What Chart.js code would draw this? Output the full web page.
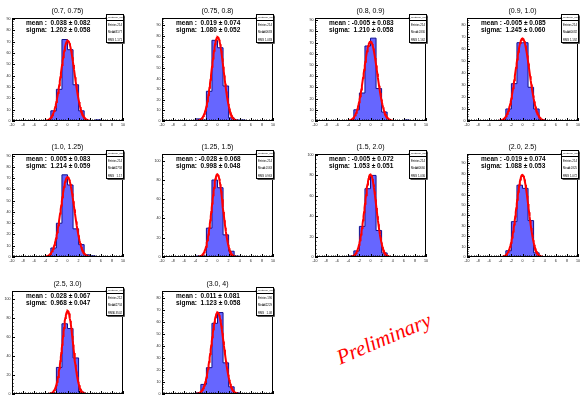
<!DOCTYPE html>
<html>
<head>
<meta charset="utf-8">
<script src="https://cdn.jsdelivr.net/npm/chart.js@4.4.0/dist/chart.umd.min.js"></script>
<style>
    html, body { margin: 0; padding: 0; background: #fff; width: 585px; height: 396px; overflow: hidden; }
    #wrap { position: relative; width: 585px; height: 396px; overflow: hidden; }
    .pad { position: absolute; }
    #prelim {
        position: absolute; left: 384px; top: 339px;
        transform: translate(-50%, -50%) rotate(-23deg);
        font: italic 21px "Liberation Serif", "DejaVu Serif", serif;
        color: #ff0000; white-space: nowrap; line-height: 1;
    }
</style>
</head>
<body>
<div id="wrap"><div id="prelim">Preliminary</div></div>
<script>
// pt bins of the pull distributions
const panelTitles = ['(0.7, 0.75)', '(0.75, 0.8)', '(0.8, 0.9)', '(0.9, 1.0)', '(1.0, 1.25)',
                     '(1.25, 1.5)', '(1.5, 2.0)', '(2.0, 2.5)', '(2.5, 3.0)', '(3.0, 4)'];

// histogram bin edges (unit bins from -10 to 10)
const binEdges = [-10, -9, -8, -7, -6, -5, -4, -3, -2, -1, 0, 1, 2, 3, 4, 5, 6, 7, 8, 9, 10];

// entries per bin, one row per panel
const binCounts = [
    [0, 0, 0, 0, 0, 0, 0, 9, 28, 72, 63, 32, 9, 0, 0, 1, 0, 0, 0, 0],
    [0, 0, 0, 0, 0, 0, 2, 1, 28, 76, 69, 33, 3, 1, 1, 0, 0, 0, 0, 0],
    [0, 0, 0, 0, 0, 0, 0, 10, 25, 67, 74, 29, 8, 0, 0, 0, 1, 0, 0, 0],
    [0, 0, 0, 0, 0, 0, 1, 10, 31, 65, 65, 28, 10, 1, 0, 0, 0, 0, 0, 0],
    [0, 0, 0, 0, 0, 0, 0, 8, 30, 73, 64, 25, 11, 2, 1, 0, 0, 0, 0, 0],
    [0, 0, 0, 0, 0, 0, 1, 1, 30, 80, 72, 23, 6, 1, 0, 0, 0, 0, 0, 0],
    [0, 0, 0, 0, 0, 0, 1, 6, 30, 67, 80, 26, 4, 0, 0, 0, 0, 0, 0, 0],
    [0, 0, 0, 0, 0, 0, 0, 6, 34, 69, 66, 35, 4, 0, 0, 0, 0, 0, 0, 0],
    [0, 0, 0, 0, 0, 0, 0, 1, 28, 74, 69, 38, 2, 0, 0, 0, 0, 0, 0, 0],
    [0, 0, 0, 0, 0, 0, 1, 8, 22, 59, 68, 26, 6, 1, 0, 0, 0, 0, 0, 0]
];

// gaussian fit results
const fitMean     = [0.038, 0.019, -0.005, -0.005, 0.005, -0.028, -0.005, -0.019, 0.028, 0.011];
const fitMeanErr  = [0.082, 0.074, 0.083, 0.085, 0.083, 0.068, 0.072, 0.074, 0.067, 0.081];
const fitSigma    = [1.202, 1.080, 1.210, 1.245, 1.214, 0.998, 1.053, 1.088, 0.968, 1.123];
const fitSigmaErr = [0.058, 0.052, 0.058, 0.060, 0.059, 0.048, 0.051, 0.053, 0.047, 0.058];
const fitPeak     = [71, 79, 71, 68.5, 71, 86, 81, 79, 87.5, 68];

// y axis ranges
const yMax  = [91, 97, 92, 85.5, 91.5, 107, 101, 99, 108.5, 86];
const yStep = [10, 10, 10, 10, 10, 20, 20, 10, 20, 10];

// stats box contents
const statEntries = ['214', '214', '214', '214', '214', '214', '214', '214', '212', '196'];
const statMean    = ['0.03177', '0.00683', '0.0330', '-0.00082', '0.02758', '-0.0163', '0.00660', '-0.0325', '0.02734', '0.02229'];
const statRms     = ['1.171', '1.083', '1.162', '1.192', '1.17', '0.963', '1.036', '1.072', '0.9502', '1.08'];
const histName = 'h_deuteron_pull0';

// pad placement (frame top-left corner on the page)
const frameLeft = [12, 162, 315, 467, 12, 162, 315, 467, 12, 162];
const frameTop  = [18, 18, 18, 18, 154, 154, 154, 154, 291, 291];

const PAD_W = 150, PAD_H = 135;
const FONT = '"Liberation Sans", Arial, sans-serif';

Chart.defaults.font.family = FONT;

// ROOT-like frame, inner ticks, title, fit label and stats box
const rootPad = {
    id: 'rootPad',
    afterDatasetsDraw(chart, args, opts) {
        const { ctx, chartArea: a, scales: { x, y } } = chart;
        const i = opts.index;
        ctx.save();
        ctx.strokeStyle = '#000';
        ctx.lineWidth = 1;

        // tick marks pointing into the frame
        ctx.beginPath();
        for (let k = 0; k <= 50; k++) {
            const px = Math.round(x.getPixelForValue(-10 + k * 0.4)) + 0.5;
            const len = k % 5 === 0 ? 3 : 1.5;
            ctx.moveTo(px, a.bottom);
            ctx.lineTo(px, a.bottom - len);
        }
        const minor = yStep[i] / 5;
        for (let k = 0; k * minor <= yMax[i]; k++) {
            const py = Math.round(y.getPixelForValue(k * minor)) + 0.5;
            const len = k % 5 === 0 ? 3 : 1.5;
            ctx.moveTo(a.left, py);
            ctx.lineTo(a.left + len, py);
        }
        ctx.stroke();

        // frame
        ctx.strokeRect(Math.round(a.left) + 0.5, Math.round(a.top) + 0.5,
                       Math.round(a.width) - 1, Math.round(a.height) - 1);

        // pad title
        ctx.fillStyle = '#000';
        ctx.font = '7px ' + FONT;
        ctx.textAlign = 'center';
        ctx.textBaseline = 'alphabetic';
        ctx.fillText(panelTitles[i], (a.left + a.right) / 2, a.top - 5.5);

        // fit result
        ctx.font = 'bold 6.5px ' + FONT;
        ctx.textAlign = 'left';
        const m = fitMean[i];
        ctx.fillText('mean : ' + (m < 0 ? '' : ' ') + m.toFixed(3) + ' \u00b1 ' + fitMeanErr[i].toFixed(3),
                     a.left + 14, a.top + 7);
        ctx.fillText('sigma:  ' + fitSigma[i].toFixed(3) + ' \u00b1 ' + fitSigmaErr[i].toFixed(3),
                     a.left + 14, a.top + 14);
        ctx.restore();
    },
    afterDraw(chart, args, opts) {
        const { ctx, chartArea: a } = chart;
        const i = opts.index;
        const bx = Math.round(a.right) - 16.5, by = Math.round(a.top) - 3.5;
        const bw = 17, bh = 28;
        ctx.save();
        ctx.fillStyle = '#fff';
        ctx.fillRect(bx, by, bw, bh);
        ctx.strokeStyle = '#000';
        ctx.lineWidth = 1;
        ctx.strokeRect(bx, by, bw, bh);
        ctx.beginPath();
        ctx.moveTo(bx, by + 6);
        ctx.lineTo(bx + bw, by + 6);
        ctx.stroke();
        // thin shadow on the right and bottom
        ctx.strokeStyle = '#555';
        ctx.beginPath();
        ctx.moveTo(bx + bw + 1, by + 1);
        ctx.lineTo(bx + bw + 1, by + bh + 1);
        ctx.lineTo(bx + 1, by + bh + 1);
        ctx.stroke();

        ctx.fillStyle = '#000';
        ctx.font = '2.5px ' + FONT;
        ctx.textAlign = 'center';
        ctx.textBaseline = 'middle';
        ctx.fillText(histName, bx + bw / 2, by + 3);
        ctx.font = '2.8px ' + FONT;
        const rows = [['Entries', statEntries[i]], ['Mean', statMean[i]], ['RMS', statRms[i]]];
        rows.forEach((r, k) => {
            const ry = by + 10.5 + k * 7.5;
            ctx.textAlign = 'left';
            ctx.fillText(r[0], bx + 1.5, ry);
            ctx.textAlign = 'right';
            ctx.fillText(r[1], bx + bw - 1.5, ry);
        });
        ctx.restore();
    }
};

const wrap = document.getElementById('wrap');

panelTitles.forEach((title, i) => {
    const canvas = document.createElement('canvas');
    canvas.className = 'pad';
    canvas.width = PAD_W;
    canvas.height = PAD_H;
    canvas.style.left = (frameLeft[i] - 12) + 'px';
    canvas.style.top = (frameTop[i] - 18) + 'px';
    canvas.style.width = PAD_W + 'px';
    canvas.style.height = PAD_H + 'px';
    wrap.insertBefore(canvas, wrap.firstChild);

    // step outline: each edge carries the count of the bin to its right
    const histPoints = binEdges.map((e, k) => ({ x: e, y: binCounts[i][Math.min(k, 19)] }));

    // fitted gaussian drawn from the fit parameters
    const mu = fitMean[i], sg = fitSigma[i];
    const fitPoints = [];
    for (let k = 0; k <= 80; k++) {
        const xv = mu - 3.4 * sg + k * (6.8 * sg / 80);
        fitPoints.push({ x: xv, y: fitPeak[i] * Math.exp(-0.5 * ((xv - mu) / sg) ** 2) });
    }

    new Chart(canvas, {
        type: 'line',
        data: {
            datasets: [
                {
                    data: fitPoints,
                    order: 0,
                    borderColor: '#ff0000',
                    borderWidth: 2,
                    pointRadius: 0,
                    fill: false,
                    tension: 0
                },
                {
                    data: histPoints,
                    order: 1,
                    stepped: true,
                    borderColor: '#101090',
                    borderWidth: 1,
                    backgroundColor: '#6666ff',
                    fill: 'origin',
                    pointRadius: 0
                }
            ]
        },
        options: {
            responsive: false,
            animation: false,
            devicePixelRatio: 1,
            layout: { padding: { top: 18, right: 27, left: 0, bottom: 0 } },
            plugins: {
                legend: { display: false },
                tooltip: { enabled: false },
                rootPad: { index: i }
            },
            scales: {
                x: {
                    type: 'linear',
                    min: -10,
                    max: 10,
                    afterFit: s => { s.height = 14; },
                    grid: { display: false, drawTicks: false },
                    border: { display: false },
                    ticks: {
                        stepSize: 2,
                        autoSkip: false,
                        maxRotation: 0,
                        padding: 1.5,
                        color: '#222',
                        font: { size: 3.6 },
                        callback: v => String(v)
                    }
                },
                y: {
                    min: 0,
                    max: yMax[i],
                    afterFit: s => { s.width = 12; },
                    grid: { display: false, drawTicks: false },
                    border: { display: false },
                    ticks: {
                        stepSize: yStep[i],
                        includeBounds: false,
                        padding: 1.5,
                        color: '#222',
                        font: { size: 3.6 },
                        callback: v => String(v)
                    }
                }
            }
        },
        plugins: [rootPad]
    });
});
</script>
</body>
</html>
